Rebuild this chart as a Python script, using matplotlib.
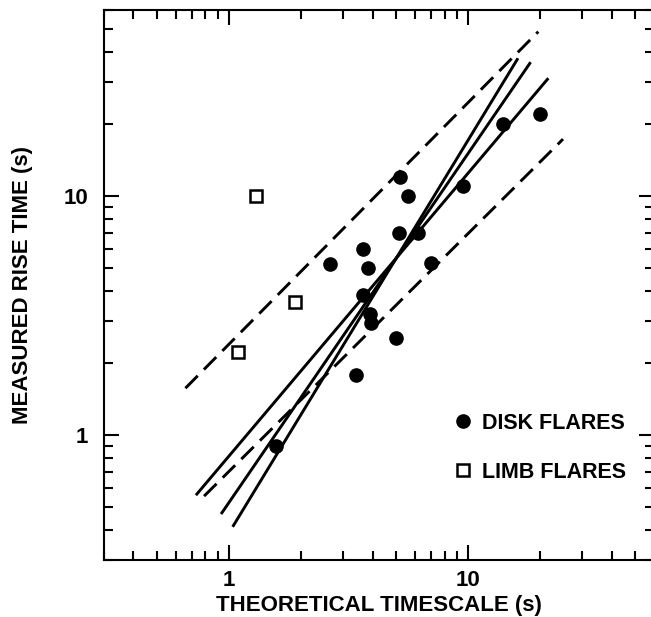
import matplotlib
matplotlib.use("Agg")
import matplotlib.pyplot as plt
from matplotlib.ticker import LogLocator, NullFormatter, FixedLocator, FixedFormatter

plt.rcParams['font.family'] = ['Liberation Sans', 'DejaVu Sans']
plt.rcParams['font.weight'] = 'bold'

# disk flares (filled circles)
disk_x = [5.2, 5.6, 9.5, 5.15, 6.2, 3.65, 2.65, 3.83, 7.0, 3.63, 3.9, 3.95, 5.0, 3.4, 20.0, 14.0, 1.58]
disk_y = [12.0, 10.0, 11.0, 7.0, 7.0, 6.0, 5.2, 5.0, 5.25, 3.85, 3.2, 2.95, 2.55, 1.78, 22.0, 20.0, 0.9]

# limb flares (open squares)
limb_x = [1.3, 1.9, 1.1]
limb_y = [10.0, 3.6, 2.23]

# solid fit lines (end points)
fit_x = [(0.73, 21.7), (0.93, 18.3), (1.04, 16.2)]
fit_y = [(0.56, 31.1), (0.467, 36.3), (0.413, 37.7)]

# dashed bounding lines (end points)
bound_x = [(0.66, 19.7), (0.79, 25.0)]
bound_y = [(1.57, 48.7), (0.555, 17.3)]

W, H = 651, 617
fig = plt.figure(figsize=(W / 100, H / 100), dpi=100)
ax = fig.add_axes([103.5 / W, (H - 560) / H, 550.5 / W, 550 / H])
ax.set_xscale('log')
ax.set_yscale('log')
ax.set_xlim(0.3, 60)
ax.set_ylim(0.3, 60)

for xs, ys in zip(fit_x, fit_y):
    ax.plot(xs, ys, '-', color='black', lw=2.1, solid_capstyle='butt')
for xs, ys in zip(bound_x, bound_y):
    ax.plot(xs, ys, '--', color='black', lw=2.1, dashes=(6, 3))

ax.plot(disk_x, disk_y, 'o', color='black', ms=9.5, ls='none', label='DISK FLARES', zorder=5)
ax.plot(limb_x, limb_y, 's', mfc='white', mec='black', mew=1.8, ms=8.5, ls='none',
        label='LIMB FLARES', zorder=5)

for axis in (ax.xaxis, ax.yaxis):
    axis.set_major_locator(FixedLocator([1, 10]))
    axis.set_major_formatter(FixedFormatter(['1', '10']))
    axis.set_minor_locator(LogLocator(base=10, subs=range(2, 10)))
    axis.set_minor_formatter(NullFormatter())

ax.tick_params(which='both', direction='in', top=True, right=True, width=1.5, labelsize=16)
ax.tick_params(which='major', length=11)
ax.tick_params(which='minor', length=6.5)
ax.tick_params(axis='x', pad=7.5)
ax.tick_params(axis='y', pad=11)
for sp in ax.spines.values():
    sp.set_linewidth(1.5)

ax.set_xlabel('THEORETICAL TIMESCALE (s)', fontsize=16, fontweight='bold', labelpad=2.5)
ax.set_ylabel('MEASURED RISE TIME (s)', fontsize=16, fontweight='bold', labelpad=22)

ax.legend(loc='upper left', bbox_to_anchor=(452 / W, 1 - 413 / H), bbox_transform=fig.transFigure,
          frameon=False, borderpad=0, borderaxespad=0, handlelength=1.0, handletextpad=0.4,
          labelspacing=1.3, prop={'size': 15.5, 'weight': 'bold'})

fig.savefig('out.png', dpi=100)
